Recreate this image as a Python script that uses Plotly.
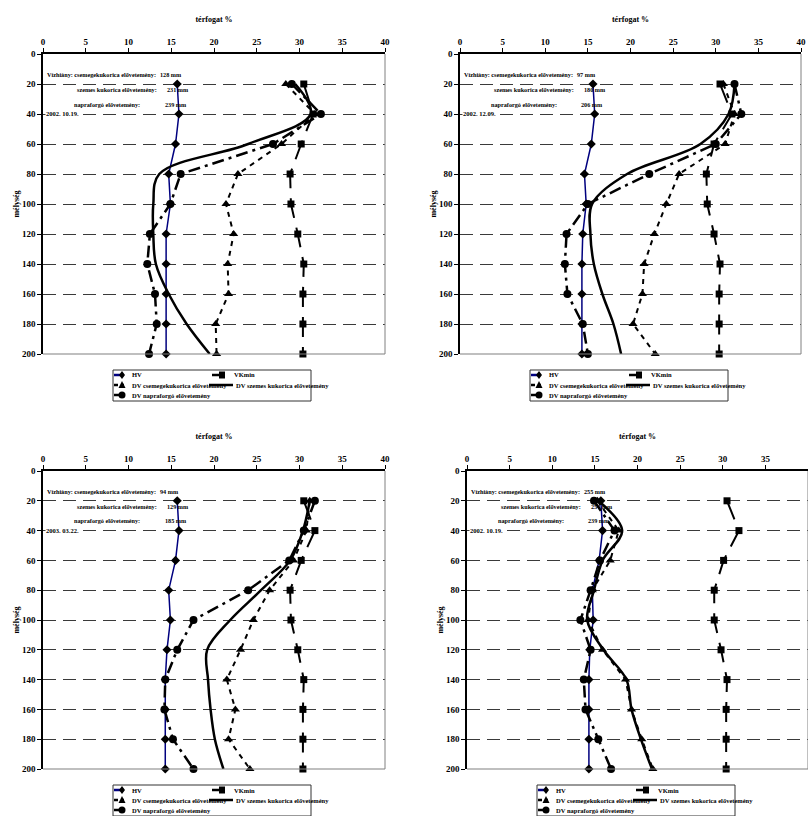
import plotly.graph_objects as go

FIG_W, FIG_H = 808, 816

# ---------------- data ----------------
DEPTH = [20, 40, 60, 80, 100, 120, 140, 160, 180, 200]
X_TICKS = [0, 5, 10, 15, 20, 25, 30, 35, 40]
Y_TICKS = [0, 20, 40, 60, 80, 100, 120, 140, 160, 180, 200]
X_TITLE = "térfogat %"
Y_TITLE = "mélység"
SERIES = ["HV", "VKmin", "DV csemegekukorica elővetemény",
          "DV szemes kukorica elővetemény", "DV napraforgó elővetemény"]

# panel 1 (top-left)
P1_HV = [15.7, 15.9, 15.5, 14.7, 14.9, 14.4, 14.4, 14.4, 14.4, 14.4]
P1_VKMIN = [30.5, 31.6, 30.2, 28.9, 29.0, 29.8, 30.5, 30.4, 30.4, 30.4]
P1_CSEMEGE = [28.4, 31.8, 27.9, 22.8, 21.4, 22.3, 21.6, 21.7, 20.2, 20.3]
P1_SZEMES = [29.5, 31.3, 24.0, 13.6, 12.9, 12.9, 13.2, 14.7, 16.8, 19.5]
P1_NAPRA = [29.1, 32.5, 26.9, 16.1, 14.9, 12.5, 12.2, 13.1, 13.3, 12.4]

# panel 2 (top-right)
P2_HV = [15.6, 15.8, 15.4, 14.6, 14.8, 14.4, 14.3, 14.3, 14.3, 14.3]
P2_VKMIN = [30.5, 31.9, 29.8, 28.9, 29.0, 29.8, 30.5, 30.4, 30.4, 30.4]
P2_CSEMEGE = [30.9, 32.2, 31.1, 25.7, 24.2, 22.8, 21.6, 21.4, 20.3, 22.9]
P2_SZEMES = [32.2, 31.5, 28.2, 19.6, 15.5, 15.3, 15.7, 16.7, 18.0, 18.9]
P2_NAPRA = [32.2, 33.0, 30.0, 22.2, 15.0, 12.5, 12.3, 12.6, 14.4, 15.0]

# panel 3 (bottom-left)
P3_HV = [15.7, 15.9, 15.5, 14.7, 14.9, 14.5, 14.3, 14.3, 14.3, 14.3]
P3_VKMIN = [30.5, 31.8, 30.2, 28.9, 29.0, 29.8, 30.5, 30.4, 30.4, 30.4]
P3_CSEMEGE = [31.2, 30.8, 29.3, 26.5, 24.6, 23.1, 21.5, 22.5, 21.7, 24.2]
P3_SZEMES = [31.2, 30.4, 28.9, 25.5, 21.9, 19.2, 19.3, 19.6, 20.1, 21.1]
P3_NAPRA = [31.8, 30.5, 28.8, 24.0, 17.6, 15.7, 14.3, 14.2, 15.2, 17.6]

# panel 4 (bottom-right)
P4_HV = [15.7, 15.9, 15.5, 14.7, 14.8, 14.4, 14.3, 14.3, 14.3, 14.3]
P4_VKMIN = [30.5, 31.9, 30.1, 29.0, 29.0, 29.8, 30.5, 30.4, 30.4, 30.4]
P4_CSEMEGE = [15.3, 17.8, 16.8, 14.7, 14.2, 15.9, 18.6, 19.3, 20.5, 21.8]
P4_SZEMES = [15.4, 18.2, 15.9, 14.9, 14.1, 16.0, 18.7, 19.3, 20.4, 21.7]
P4_NAPRA = [14.9, 17.3, 15.6, 14.5, 13.3, 14.5, 13.7, 13.9, 15.4, 16.9]

DATES = ["2002. 10.19.", "2002. 12.09.", "2003. 03.22.", "2002. 10.19."]
DEF_CSEMEGE = [128, 97, 94, 255]
DEF_SZEMES = [231, 180, 129, 254]
DEF_NAPRA = [239, 206, 185, 239]

PANELS = [
    [P1_HV, P1_VKMIN, P1_CSEMEGE, P1_SZEMES, P1_NAPRA],
    [P2_HV, P2_VKMIN, P2_CSEMEGE, P2_SZEMES, P2_NAPRA],
    [P3_HV, P3_VKMIN, P3_CSEMEGE, P3_SZEMES, P3_NAPRA],
    [P4_HV, P4_VKMIN, P4_CSEMEGE, P4_SZEMES, P4_NAPRA],
]

# ---------------- layout / style ----------------
# plot-area boxes in pixels: left, right, top, bottom
PANEL_BOX = [(43, 385, 54, 354), (460, 801, 54, 354),
             (43, 385, 471, 769), (467, 808, 471, 769)]

SERIF = "Liberation Serif"


def font(size):
    return dict(family=SERIF, size=size, color="black", weight="bold")


STYLE = {
    "HV": dict(mode="lines+markers",
               line=dict(color="#00007f", width=1.5),
               marker=dict(symbol="diamond", size=7, color="black")),
    "VKmin": dict(mode="lines+markers",
                  line=dict(color="black", width=2, dash="20px,10px"),
                  marker=dict(symbol="square", size=7, color="black")),
    "DV csemegekukorica elővetemény": dict(
        mode="lines+markers",
        line=dict(color="black", width=2, dash="5px,5px"),
        marker=dict(symbol="triangle-up", size=8, color="black")),
    "DV szemes kukorica elővetemény": dict(
        mode="lines",
        line=dict(color="black", width=2.5, shape="spline", smoothing=1.0)),
    "DV napraforgó elővetemény": dict(
        mode="lines+markers",
        line=dict(color="black", width=2.5, dash="12px,5px,3px,5px"),
        marker=dict(symbol="circle", size=8, color="black")),
}


def PX(x):
    return x / FIG_W


def PY(y):
    return 1 - y / FIG_H


fig = go.Figure()
shapes = []
annotations = []
layout_axes = {}

for i, (series_vals, box) in enumerate(zip(PANELS, PANEL_BOX)):
    n = i + 1
    sfx = "" if n == 1 else str(n)
    L, R, T, B = box
    xdom = [PX(L), min(PX(R), 1.0)]
    ydom = [PY(B), PY(T)]

    for name, vals in zip(SERIES, series_vals):
        fig.add_trace(go.Scatter(x=vals, y=DEPTH, name=name, showlegend=False,
                                 xaxis="x" + sfx, yaxis="y" + sfx,
                                 cliponaxis=False, **STYLE[name]))

    layout_axes["xaxis" + sfx] = dict(
        domain=xdom, anchor="y" + sfx, side="top", range=[0, 40],
        tickvals=X_TICKS, ticks="outside", ticklen=4, tickcolor="black",
        showline=True, linecolor="black", linewidth=1.5, showgrid=False,
        zeroline=False, tickfont=font(9), automargin=False,
        title=dict(text=X_TITLE, font=font(8), standoff=13))
    layout_axes["yaxis" + sfx] = dict(
        domain=ydom, anchor="x" + sfx, range=[200, 0],
        tickvals=Y_TICKS, ticks="outside", ticklen=4, tickcolor="black",
        showline=True, linecolor="black", linewidth=1.5,
        showgrid=True, gridcolor="#3a3a3a", gridwidth=1, griddash="13px,7px",
        zeroline=False, tickfont=font(9), automargin=False,
        title=dict(text=Y_TITLE, font=font(8), standoff=1))

    xr = "x" + sfx + " domain"
    yr = "y" + sfx + " domain"
    # right and bottom frame of the plot area
    shapes.append(dict(type="line", xref=xr, yref=yr, x0=1, x1=1, y0=0, y1=1,
                       line=dict(color="#808080", width=1)))
    shapes.append(dict(type="line", xref=xr, yref=yr, x0=0, x1=1, y0=0, y1=0,
                       line=dict(color="#808080", width=1.2)))

    # note text inside the plot
    notes = [
        ("Vízhiány: csemegekukorica elővetemény:", 0.006, 0.336,
         DEF_CSEMEGE[i], 0.930),
        ("szemes kukorica elővetemény:", 0.094, 0.358, DEF_SZEMES[i], 0.880),
        ("napraforgó elővetemény:", 0.085, 0.350, DEF_NAPRA[i], 0.833),
    ]
    for label, lx, vx, val, yy in notes:
        annotations.append(dict(text=label, xref=xr, yref=yr, x=lx, y=yy,
                                xanchor="left", yanchor="middle",
                                showarrow=False, font=font(6.2)))
        annotations.append(dict(text=f"{val} mm", xref=xr, yref=yr, x=vx,
                                y=yy, xanchor="left", yanchor="middle",
                                showarrow=False, font=font(6.2)))
    annotations.append(dict(text=DATES[i], xref=xr, yref=yr, x=0.006, y=0.8,
                            xanchor="left", yanchor="middle", showarrow=False,
                            font=font(6.5), bgcolor="white", borderpad=0))

    # ---- legend box under the plot ----
    bx, by = L + 70, B + 16
    shapes.append(dict(type="rect", xref="paper", yref="paper",
                       x0=PX(bx), x1=PX(bx + 198), y0=PY(by), y1=PY(by + 31),
                       line=dict(color="#333333", width=1),
                       fillcolor="white", layer="above"))
    # (series name, line x0, line x1, marker x, text x, row y)
    entries = [
        (SERIES[0], 1, 11, 9, 17, 5),
        (SERIES[1], 99, 108, 109, 119, 5),
        (SERIES[2], 1, 11, 9, 17, 15),
        (SERIES[3], 96, 120, None, 121, 15),
        (SERIES[4], 1, 11, 9, 17, 25),
    ]
    for name, lx0, lx1, mx, tx, ry in entries:
        st = STYLE[name]
        ln = st["line"]
        dash = "4px,3px" if name == SERIES[2] else "solid"
        shapes.append(dict(type="line", xref="paper", yref="paper",
                           x0=PX(bx + lx0), x1=PX(bx + lx1),
                           y0=PY(by + ry), y1=PY(by + ry),
                           line=dict(color=ln["color"], width=2.5, dash=dash),
                           layer="above"))
        if mx is not None:
            sym = st["marker"]["symbol"]
            cx, cy = bx + mx, by + ry
            r = 3.5
            if sym == "circle":
                shapes.append(dict(type="circle", xref="paper", yref="paper",
                                   x0=PX(cx - r), x1=PX(cx + r),
                                   y0=PY(cy - r), y1=PY(cy + r),
                                   fillcolor="black", line=dict(width=0),
                                   layer="above"))
            elif sym == "square":
                shapes.append(dict(type="rect", xref="paper", yref="paper",
                                   x0=PX(cx - 3), x1=PX(cx + 3),
                                   y0=PY(cy - 3.5), y1=PY(cy + 3.5),
                                   fillcolor="black", line=dict(width=0),
                                   layer="above"))
            else:
                if sym == "diamond":
                    pts = [(cx, cy - 4), (cx + 3, cy), (cx, cy + 4), (cx - 3, cy)]
                else:
                    pts = [(cx, cy - 4), (cx + 3.5, cy + 3), (cx - 3.5, cy + 3)]
                path = "M " + " L ".join(f"{PX(a):.5f},{PY(b):.5f}"
                                         for a, b in pts) + " Z"
                shapes.append(dict(type="path", xref="paper", yref="paper",
                                   path=path, fillcolor="black",
                                   line=dict(width=0), layer="above"))
        annotations.append(dict(text=name, xref="paper", yref="paper",
                                x=PX(bx + tx), y=PY(by + ry), xanchor="left",
                                yanchor="middle", showarrow=False,
                                font=font(6.5)))

fig.update_layout(
    width=FIG_W, height=FIG_H,
    margin=dict(l=0, r=0, t=0, b=0),
    paper_bgcolor="white", plot_bgcolor="white",
    showlegend=False,
    shapes=shapes, annotations=annotations,
    **layout_axes,
)

fig.write_html("out.html")
